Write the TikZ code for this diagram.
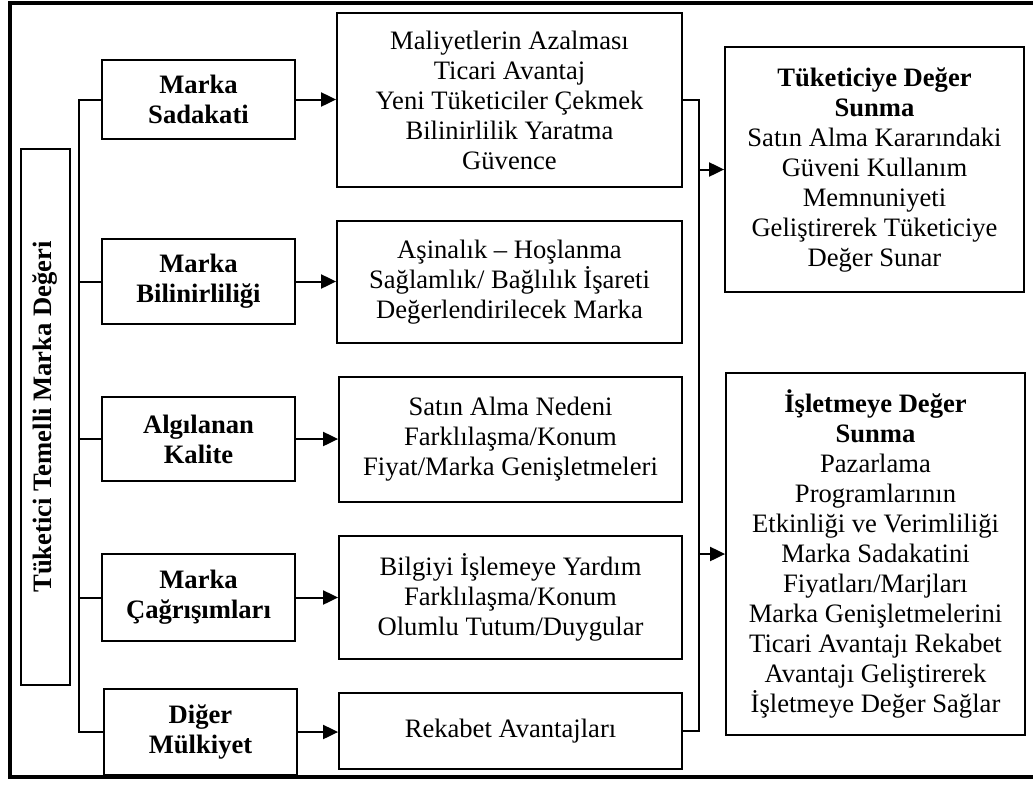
\documentclass[tikz,border=0pt]{standalone}
\usepackage{fontspec}
\setmainfont{Liberation Serif}
\usetikzlibrary{arrows.meta}
\begin{document}
\begin{tikzpicture}[x=1pt,y=-1pt,
  box/.style={draw, line width=1.8pt, align=center, inner sep=0pt,
    font=\fontsize{26.6}{30}\selectfont},
  link/.style={line width=2pt},
  arr/.style={line width=2pt, -{Triangle[length=15pt,width=14pt]}}]
\useasboundingbox (0,0) rectangle (1033,785);
% open outer frame
\draw[line width=3.5pt] (1033,3) -- (10,3) -- (10,777) -- (1033,777);

% vertical title
\node[box, rotate=90, minimum width=536pt, minimum height=49pt] (tt) at (45.5,417)
  {\textbf{Tüketici Temelli Marka Değeri}};

% dimensions
\node[box, minimum width=193pt, minimum height=79pt] (ms) at (198.5,99.5)
  {\textbf{Marka}\\\textbf{Sadakati}};
\node[box, minimum width=193pt, minimum height=85pt] (mb) at (198.5,281.5)
  {\textbf{Marka}\\\textbf{Bilinirliliği}};
\node[box, minimum width=193pt, minimum height=84pt] (ak) at (198.5,439)
  {\textbf{Algılanan}\\\textbf{Kalite}};
\node[box, minimum width=193pt, minimum height=87pt] (mc) at (198.5,597.5)
  {\textbf{Marka}\\\textbf{Çağrışımları}};
\node[box, minimum width=193pt, minimum height=86pt] (dm) at (200.5,732)
  {\textbf{Diğer}\\\textbf{Mülkiyet}};

% effects
\node[box, minimum width=345pt, minimum height=174pt] (r1) at (509.5,100)
  {Maliyetlerin Azalması\\Ticari Avantaj\\Yeni Tüketiciler Çekmek\\Bilinirlilik Yaratma\\Güvence};
\node[box, minimum width=345pt, minimum height=122pt] (r2) at (509.5,282)
  {Aşinalık – Hoşlanma\\Sağlamlık/ Bağlılık İşareti\\Değerlendirilecek Marka};
\node[box, minimum width=343pt, minimum height=125pt] (r3) at (510.5,439.5)
  {Satın Alma Nedeni\\Farklılaşma/Konum\\Fiyat/Marka Genişletmeleri};
\node[box, minimum width=343pt, minimum height=123pt] (r4) at (510.5,597.5)
  {Bilgiyi İşlemeye Yardım\\Farklılaşma/Konum\\Olumlu Tutum/Duygular};
\node[box, minimum width=343pt, minimum height=76pt] (r5) at (510.5,731)
  {Rekabet Avantajları};

% outcomes
\node[box, minimum width=299pt, minimum height=245pt] (tk) at (874.5,169.5)
  {\textbf{Tüketiciye Değer}\\\textbf{Sunma}\\Satın Alma Kararındaki\\Güveni Kullanım\\Memnuniyeti\\Geliştirerek Tüketiciye\\Değer Sunar};
\node[box, minimum width=299pt, minimum height=362pt] (is) at (875.5,554)
  {\textbf{İşletmeye Değer}\\\textbf{Sunma}\\Pazarlama\\Programlarının\\Etkinliği ve Verimliliği\\Marka Sadakatini\\Fiyatları/Marjları\\Marka Genişletmelerini\\Ticari Avantajı Rekabet\\Avantajı Geliştirerek\\İşletmeye Değer Sağlar};

% left spine
\coordinate (lT) at (79,99.5);
\coordinate (lB) at (79,732);
\draw[link] (ms.west) -- (lT) -- (lB) -- (dm.west);
\draw[link] (mb.west) -- (mb.west -| lT);
\draw[link] (ak.west) -- (ak.west -| lT);
\draw[link] (mc.west) -- (mc.west -| lT);

% dimension to effect arrows
\draw[arr] (ms.east) -- (ms.east -| r1.west);
\draw[arr] (mb.east) -- (mb.east -| r2.west);
\draw[arr] (ak.east) -- (ak.east -| r3.west);
\draw[arr] (mc.east) -- (mc.east -| r4.west);
\draw[arr] (dm.east) -- (dm.east -| r5.west);

% right spine
\coordinate (rT) at (699,100);
\coordinate (rB) at (699,731);
\draw[link] (r1.east) -- (rT) -- (rB) -- (r5.east);
\draw[arr] (tk.west -| rT) -- (tk.west);
\draw[arr] (is.west -| rT) -- (is.west);
\end{tikzpicture}
\end{document}
